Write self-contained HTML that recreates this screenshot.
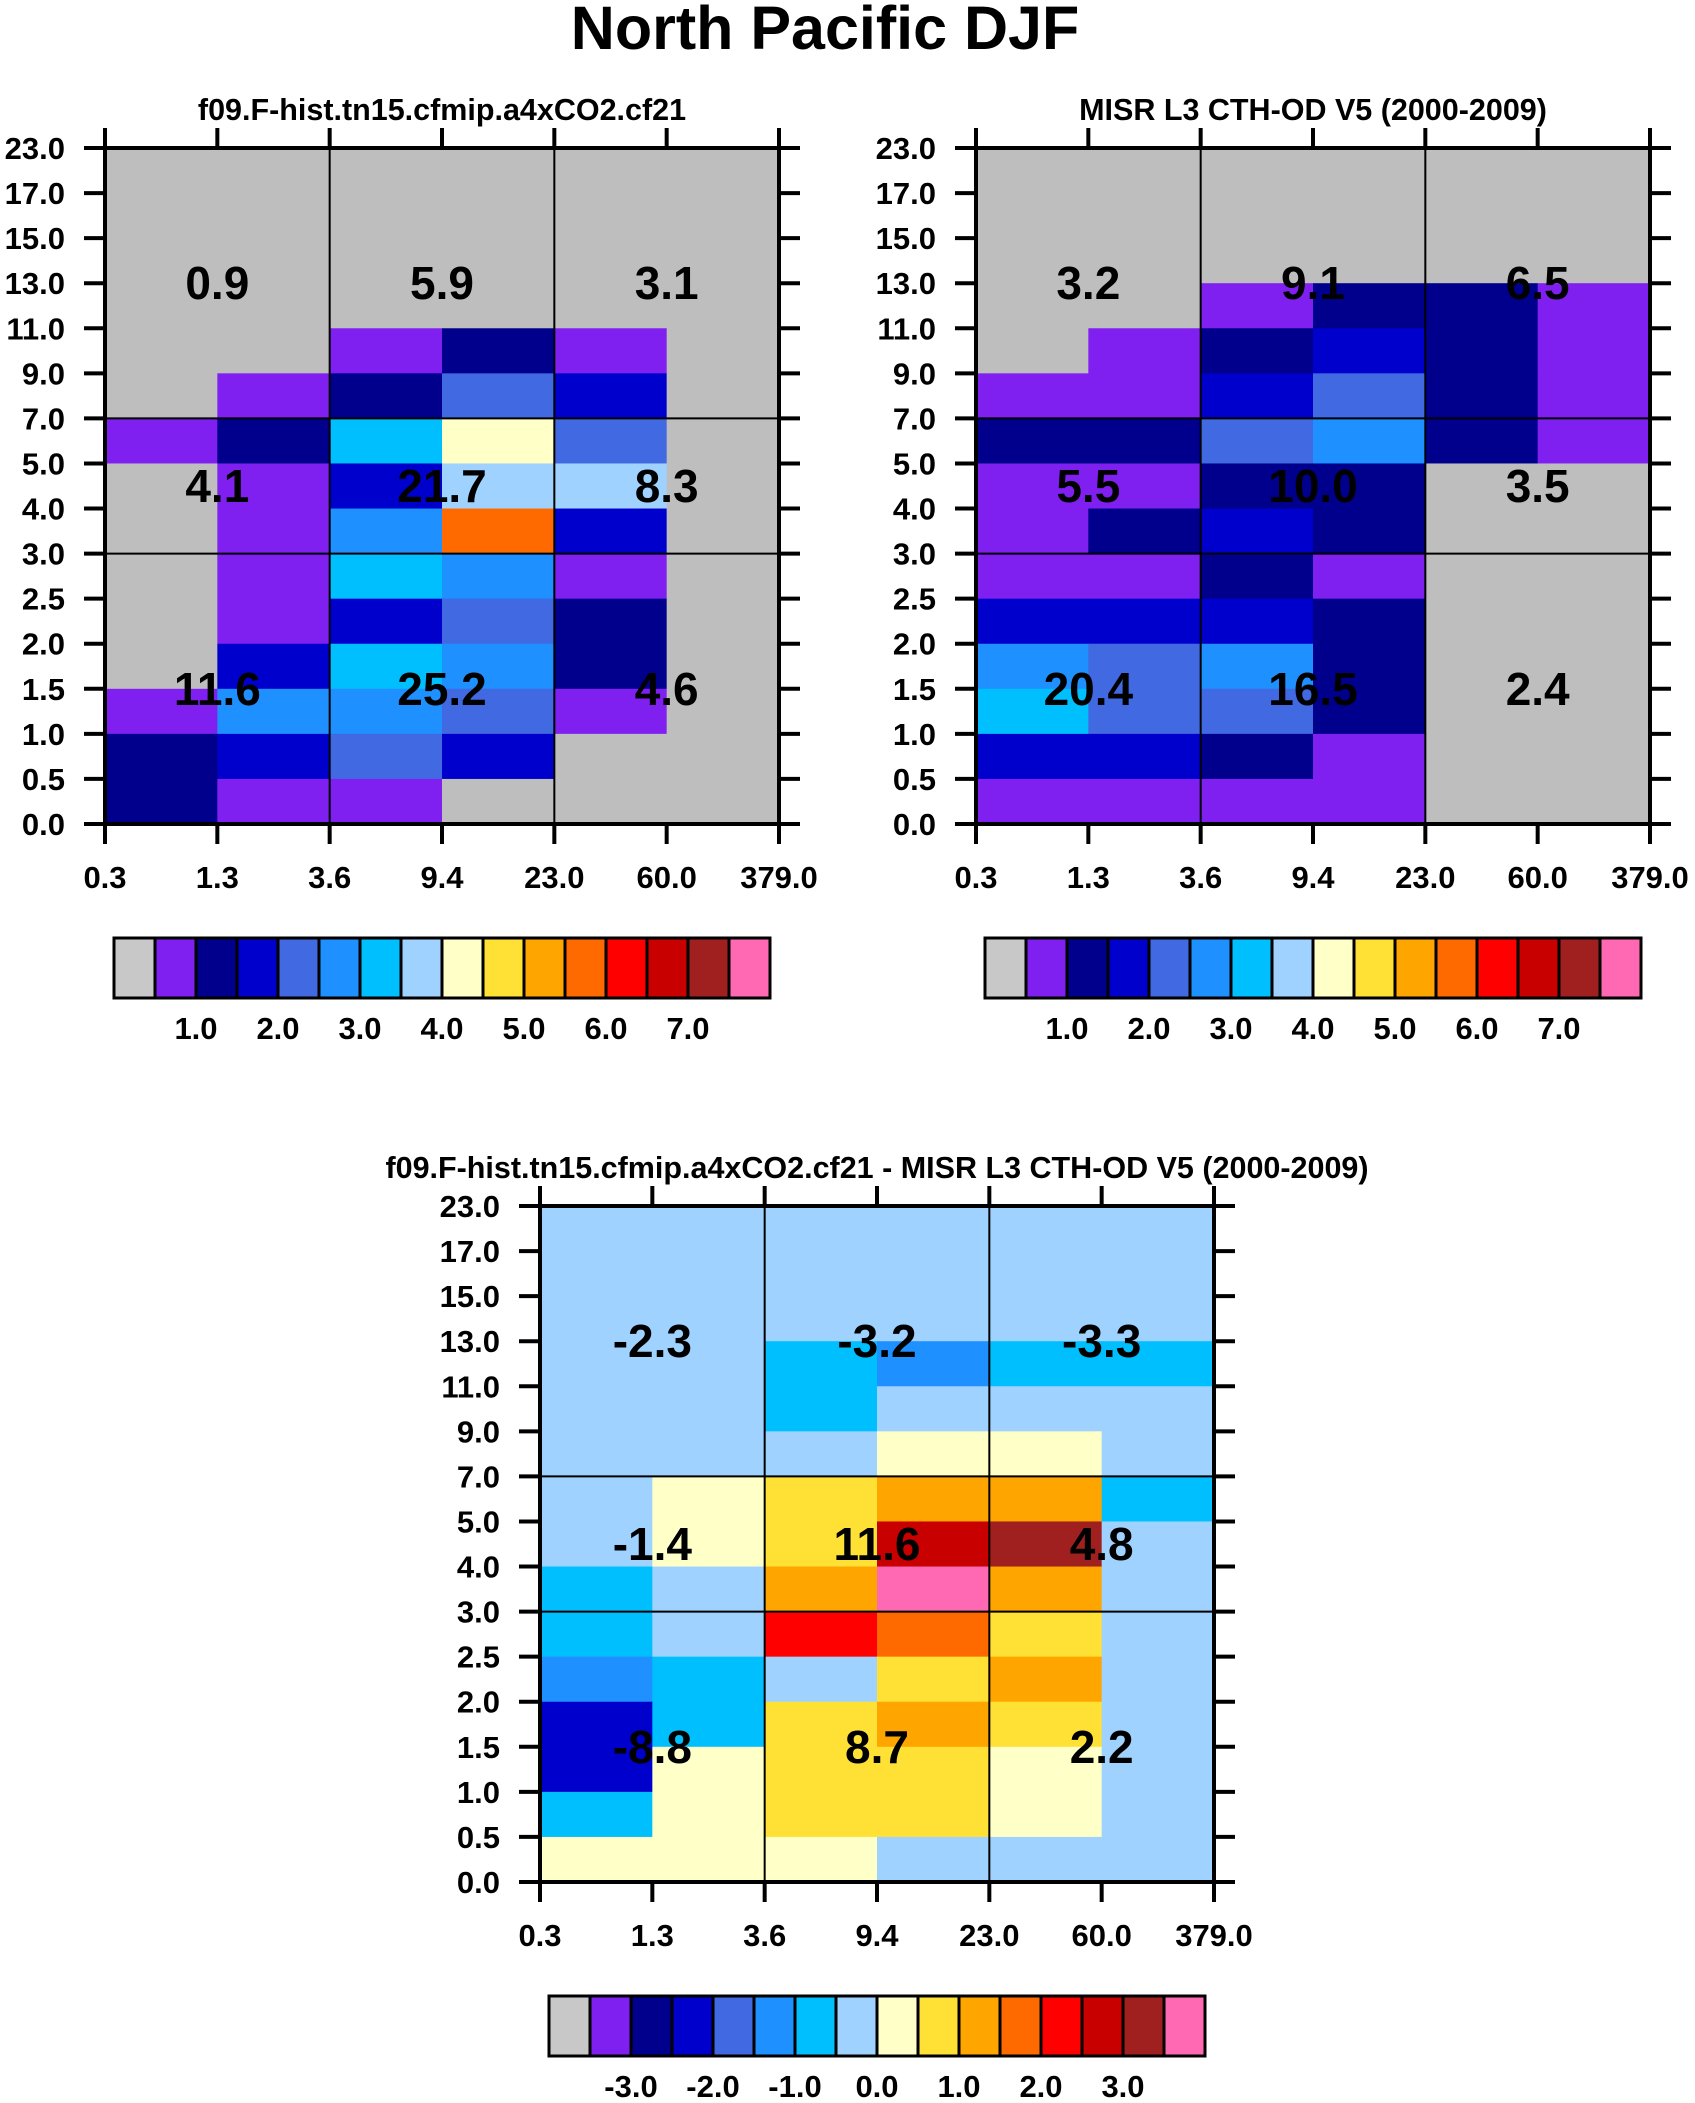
<!DOCTYPE html>
<html><head><meta charset="utf-8"><style>
html,body{margin:0;padding:0;background:#fff}
svg{display:block;font-family:"Liberation Sans",sans-serif;font-weight:bold}
</style></head><body>
<svg id="fig" width="1695" height="2103" viewBox="0 0 1695 2103">
<text x="825" y="49" text-anchor="middle" font-size="61">North Pacific DJF</text>
</svg>
<script>
const yTickLabels=["23.0","17.0","15.0","13.0","11.0","9.0","7.0","5.0","4.0","3.0","2.5","2.0","1.5","1.0","0.5","0.0"];
const xTickLabels=["0.3","1.3","3.6","9.4","23.0","60.0","379.0"];
const palette=["#c8c8c8","#8020f0","#00008c","#0000cd","#4169e1","#1e90ff","#00bfff","#a0d2ff","#ffffc8","#ffe135","#ffa500","#ff6a00","#ff0000","#c80000","#a02020","#ff69b4"];
const grid1=[
[0,0,0,0,0,0],[0,0,0,0,0,0],[0,0,0,0,0,0],[0,0,0,0,0,0],
[0,0,1,2,1,0],[0,1,2,4,3,0],[1,2,6,8,4,0],[0,1,3,7,7,0],
[0,1,5,11,3,0],[0,1,6,5,1,0],[0,1,3,4,2,0],[0,3,6,5,2,0],
[1,5,5,4,1,0],[2,3,4,3,0,0],[2,1,1,0,0,0]];
const grid2=[
[0,0,0,0,0,0],[0,0,0,0,0,0],[0,0,0,0,0,0],[0,0,1,2,2,1],
[0,1,2,3,2,1],[1,1,3,4,2,1],[2,2,4,5,2,1],[1,1,2,2,0,0],
[1,2,3,2,0,0],[1,1,2,1,0,0],[3,3,3,2,0,0],[5,4,5,2,0,0],
[6,4,4,2,0,0],[3,3,2,1,0,0],[1,1,1,1,0,0]];
const grid3=[
[7,7,7,7,7,7],[7,7,7,7,7,7],[7,7,7,7,7,7],[7,7,6,5,6,6],
[7,7,6,7,7,7],[7,7,7,8,8,7],[7,8,9,10,10,6],[7,8,9,13,14,7],
[6,7,10,15,10,7],[6,7,12,11,9,7],[5,6,7,9,10,7],[3,6,9,10,9,7],
[3,8,9,9,8,7],[6,8,9,9,8,7],[8,8,8,7,7,7]];
const vals1=["0.9","5.9","3.1","4.1","21.7","8.3","11.6","25.2","4.6"];
const vals2=["3.2","9.1","6.5","5.5","10.0","3.5","20.4","16.5","2.4"];
const vals3=["-2.3","-3.2","-3.3","-1.4","11.6","4.8","-8.8","8.7","2.2"];
const cbLabels1=["1.0","2.0","3.0","4.0","5.0","6.0","7.0"];
const cbLabels3=["-3.0","-2.0","-1.0","0.0","1.0","2.0","3.0"];

const NS="http://www.w3.org/2000/svg";
const svg=document.getElementById('fig');
function mk(tag,attrs,parent){const e=document.createElementNS(NS,tag);for(const k in attrs)e.setAttribute(k,attrs[k]);(parent||svg).appendChild(e);return e;}

function panel(px,py,title,grid,vals,cbx,cby,cbLabels,name){
  const W=674,H=676,nc=6,nr=15;
  const xs=c=>px+c*W/nc, ys=r=>py+r*H/nr;
  const g=mk('g',{});
  
  
  const t=mk('text',{x:px+W/2,y:py-28,'text-anchor':'middle','font-size':30.5},g);t.textContent=title;
  
  
  grid.forEach((row,r)=>row.forEach((ci,c)=>{
    const rc=mk('rect',{x:xs(c),y:ys(r),width:W/nc+0.5,height:H/nr+0.5,fill:ci===0?'#bebebe':palette[ci]},g);
    
    
  }));
  [2,4].forEach(c=>mk('line',{x1:xs(c),y1:py,x2:xs(c),y2:py+H,stroke:'#000','stroke-width':2},g));
  [6,9].forEach(r=>mk('line',{x1:px,y1:ys(r),x2:px+W,y2:ys(r),stroke:'#000','stroke-width':2},g));
  mk('rect',{x:px,y:py,width:W,height:H,fill:'none',stroke:'#000','stroke-width':4},g);
  yTickLabels.forEach((lb,i)=>{
    const y=ys(i);
    mk('line',{x1:px-21,y1:y,x2:px,y2:y,stroke:'#000','stroke-width':4},g);
    mk('line',{x1:px+W,y1:y,x2:px+W+21,y2:y,stroke:'#000','stroke-width':4},g);
    const tx=mk('text',{x:px-40,y:y+11,'text-anchor':'end','font-size':31},g);tx.textContent=lb;
    
    
  });
  xTickLabels.forEach((lb,i)=>{
    const x=xs(i);
    mk('line',{x1:x,y1:py-20,x2:x,y2:py,stroke:'#000','stroke-width':4},g);
    mk('line',{x1:x,y1:py+H,x2:x,y2:py+H+20,stroke:'#000','stroke-width':4},g);
    const tx=mk('text',{x:x,y:py+H+64,'text-anchor':'middle','font-size':31},g);tx.textContent=lb;
    
    
  });
  const rowsAt=[3,7.5,12];
  vals.forEach((v,i)=>{
    const x=xs(1+2*(i%3)), y=ys(rowsAt[Math.floor(i/3)]);
    const tx=mk('text',{x:x,y:y+16,'text-anchor':'middle','font-size':46},g);tx.textContent=v;
    
    
  });
  const bw=41,bh=60;
  palette.forEach((col,i)=>{
    const b=mk('rect',{x:cbx+i*bw,y:cby,width:bw,height:bh,fill:col,stroke:'#000','stroke-width':3},g);
    
    
  });
  cbLabels.forEach((lb,i)=>{
    const tx=mk('text',{x:cbx+(2+2*i)*bw,y:cby+bh+41,'text-anchor':'middle','font-size':31},g);tx.textContent=lb;
    
    
  });
}
panel(105,148,"f09.F-hist.tn15.cfmip.a4xCO2.cf21",grid1,vals1,114,938,cbLabels1,'model-panel');
panel(976,148,"MISR L3 CTH-OD V5 (2000-2009)",grid2,vals2,985,938,cbLabels1,'obs-panel');
panel(540,1206,"f09.F-hist.tn15.cfmip.a4xCO2.cf21 - MISR L3 CTH-OD V5 (2000-2009)",grid3,vals3,549,1996,cbLabels3,'diff-panel');
</script>
</body></html>
